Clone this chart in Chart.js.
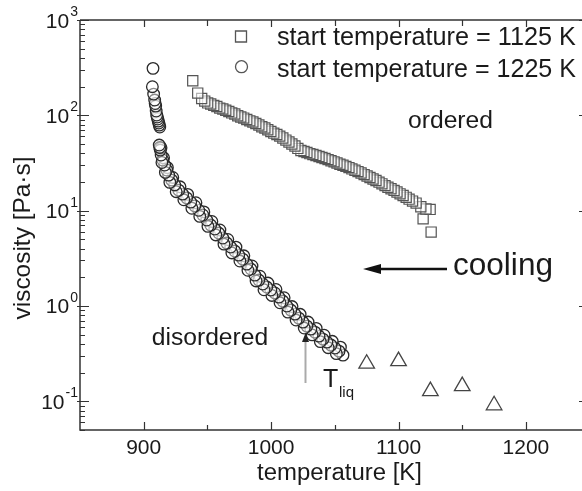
<!DOCTYPE html>
<html><head><meta charset="utf-8">
<script src="https://cdn.jsdelivr.net/npm/chart.js@4.4.0/dist/chart.umd.min.js"></script>
<style>html,body{margin:0;padding:0;background:#fff}</style>
</head><body>
<canvas id="c" width="582" height="491"></canvas>
<script>
// ---- data ----
const sqT = [938.5,942.4,945.5,947.9,950.2,952.6,955.0,957.4,959.7,962.1,964.4,966.8,969.1,971.5,973.8,976.2,978.5,980.9,983.3,985.7,988.0,990.4,992.7,995.1,997.4,999.8,1002.1,1004.5,1006.8,1009.2,1011.6,1014.0,1016.3,1018.7,1021.0,1023.4,1025.8,1028.1,1030.4,1032.8,1035.2,1037.6,1039.9,1042.3,1044.7,1047.0,1049.4,1051.7,1054.0,1056.4,1058.7,1061.1,1063.4,1065.8,1068.2,1070.6,1073.0,1075.3,1077.6,1080.0,1082.3,1084.7,1087.0,1089.4,1091.7,1094.1,1096.5,1098.8,1101.2,1103.6,1106.0,1108.3,1111.0,1113.8,1117.5,1121.5,1124.8,1119.3,1125.6];
const sqV = [230.7,171,150,141,135,131.4,127,123.6,119,116.4,113,109.6,106,103.2,99,96,93.5,90.3,87.5,85.1,82,79.1,76,73.6,70.5,67.6,65,62.9,60.5,57.8,55,52.5,50,47.6,45,42.7,41.8,40.7,39.6,38.8,37.9,37.0,36.1,35.2,34.3,33.4,32.5,31.6,30.7,29.9,29.1,28.3,27.4,26.5,25.7,24.8,23.9,23.1,22.3,21.5,20.7,19.9,19.1,18.3,17.6,17.0,16.3,15.7,15.0,14.4,13.8,13.2,12.6,12.0,11.0,10.4,10.3,8.2,5.96];

const ciT = [907.3,906.8,907.8,908.6,909.0,909.4,909.8,910.2,910.6,911.0,911.4,911.8,912.2,912.6,
 912.2,912.6,913.0,913.6,913.7,914.3,914.9,915.6,916.5,917.0,918.1,918.6,919.6,920.5,922.0,922.8,924.3,925.5,927.5,928.5,930.6,931.5,933.7,934.5,936.9,937.8,940.1,941.0,943.2,944.0,946.4,947.2,949.5,950.4,952.6,953.5,955.8,956.6,958.9,959.8,962.1,963.0,965.2,966.0,968.3,969.2,971.5,972.4,974.6,975.5,977.8,978.6,980.9,981.8,984.1,985.0,987.2,988.2,990.4,991.2,993.5,994.4,996.6,997.5,999.8,1000.6,1002.9,1003.8,1006.1,1007.0,1009.2,1010.2,1012.4,1013.2,1015.5,1016.4,1018.7,1019.6,1021.8,1022.8,1025.0,1026.0,1028.1,1029.0,1031.2,1032.2,1034.4,1035.4,1037.6,1038.6,1040.7,1041.6,1043.8,1044.8,1047.0,1048.0,1050.1,1051.2,1053.3,1054.4,1056.4];
const ciV = [311,199.6,167,144.7,133,125,111,100.7,96,91.5,87,83,79,75.4,
 48.8,46,43.2,45.6,38.3,32,34.0,35.8,30.1,25.2,26.7,28.3,23.6,19.8,20.9,22.3,18.6,15.8,16.4,17.8,14.9,13.0,13.6,14.8,12.3,10.6,11.2,12.1,10.1,8.7,9.0,9.7,7.97,6.85,7.06,7.7,6.41,5.56,5.82,6.27,5.16,4.45,4.57,4.98,4.15,3.6,3.77,4.14,3.42,2.96,3.10,3.36,2.75,2.37,2.44,2.63,2.11,1.83,1.87,2.05,1.70,1.48,1.58,1.74,1.47,1.29,1.37,1.49,1.24,1.08,1.126,1.22,0.998,0.863,0.906,0.986,0.822,0.712,0.746,0.818,0.678,0.587,0.615,0.678,0.572,0.498,0.532,0.582,0.483,0.423,0.449,0.493,0.418,0.365,0.389,0.426,0.362,0.316,0.336,0.37,0.305];

const triT = [1075,1100,1125,1150,1175];
const triV = [0.248,0.264,0.128,0.1445,0.0908];

const xMajor = [900,1000,1100,1200];
const xMinor = [950,1050,1150];
const xTickLabels = ['900','1000','1100','1200'];
const yMajor = [0.1,1,10,100,1000];
const yExpLabels = ['-1','0','1','2','3'];
const yMinor = [0.05,0.06,0.07,0.08,0.09,0.2,0.3,0.4,0.5,0.6,0.7,0.8,0.9,2,3,4,5,6,7,8,9,20,30,40,50,60,70,80,90,200,300,400,500,600,700,800,900];

const legendLabels = ['start temperature = 1125 K','start temperature = 1225 K'];

// ---- build ----
function pts(T,V){ const a=[]; for(let i=T.length-1;i>=0;i--) a.push({x:T[i],y:V[i]}); return a; }
const FONT = '"Liberation Sans", Arial, Helvetica, sans-serif';
const TXT = '#1a1a1a';

function fitText(ctx, text, x, y, w, base){
  ctx.font = base+'px '+FONT;
  const m = ctx.measureText(text).width;
  const s = base*w/m;
  ctx.font = s.toFixed(2)+'px '+FONT;
  ctx.fillText(text, x, y);
}

const deco = {
  id:'deco',
  afterDraw(chart){
    const ctx = chart.ctx, a = chart.chartArea;
    const xs = chart.scales.x, ys = chart.scales.y;
    ctx.save();
    // frame
    ctx.strokeStyle = '#333'; ctx.lineWidth = 1.5;
    ctx.beginPath();
    ctx.moveTo(a.left, a.top); ctx.lineTo(a.right, a.top);
    ctx.moveTo(a.left, a.top); ctx.lineTo(a.left, a.bottom); ctx.lineTo(a.right, a.bottom);
    ctx.stroke();
    ctx.lineWidth = 1.2;
    ctx.beginPath();
    xMajor.forEach(v=>{ const p = Math.round(xs.getPixelForValue(v))+0.5;
      ctx.moveTo(p,a.bottom); ctx.lineTo(p,a.bottom-8);
      ctx.moveTo(p,a.top); ctx.lineTo(p,a.top+7); });
    xMinor.forEach(v=>{ const p = Math.round(xs.getPixelForValue(v))+0.5;
      ctx.moveTo(p,a.bottom); ctx.lineTo(p,a.bottom-5);
      ctx.moveTo(p,a.top); ctx.lineTo(p,a.top+6); });
    yMajor.forEach(v=>{ const p = Math.round(ys.getPixelForValue(v))+0.5;
      ctx.moveTo(a.left-3,p); ctx.lineTo(a.left+9,p);
      ctx.moveTo(a.right,p); ctx.lineTo(a.right-3,p); });
    yMinor.forEach(v=>{ const p = Math.round(ys.getPixelForValue(v))+0.5;
      ctx.moveTo(a.left,p); ctx.lineTo(a.left+5,p); });
    ctx.stroke();

    ctx.fillStyle = TXT;
    // x tick labels
    ctx.font = '21px '+FONT; ctx.textAlign='center'; ctx.textBaseline='alphabetic';
    xMajor.forEach((v,i)=> ctx.fillText(xTickLabels[i], xs.getPixelForValue(v), 454));
    // y tick labels 10^n
    yMajor.forEach((v,i)=>{
      const p = ys.getPixelForValue(v);
      ctx.font = '14px '+FONT; ctx.textAlign='left';
      const ew = ctx.measureText(yExpLabels[i]).width;
      const ex = 78 - ew;
      ctx.fillText(yExpLabels[i], ex, p-4);
      ctx.font = '21px '+FONT; ctx.textAlign='right';
      ctx.fillText('10', ex-1, p+7.5);
    });
    // axis titles
    ctx.textAlign='center';
    fitText(ctx, 'temperature [K]', 339.5, 480, 165, 24);
    ctx.save(); ctx.translate(23,238); ctx.rotate(-Math.PI/2);
    ctx.textBaseline='middle';
    fitText(ctx, 'viscosity [Pa\u00b7s]', 0, 0, 163, 24.5);
    ctx.restore();

    // legend
    ctx.textAlign='left'; ctx.textBaseline='alphabetic';
    ctx.strokeStyle='#555'; ctx.lineWidth=1.3; ctx.fillStyle='#fff';
    ctx.beginPath(); ctx.rect(235.5,31,11,11); ctx.fill(); ctx.stroke();
    ctx.beginPath(); ctx.arc(241.5,66.7,6,0,Math.PI*2); ctx.fill(); ctx.stroke();
    ctx.fillStyle=TXT;
    fitText(ctx, legendLabels[0], 277, 45, 299, 25);
    fitText(ctx, legendLabels[1], 277, 76.5, 299, 25);

    // annotations
    fitText(ctx, 'ordered', 408, 128, 85, 24.5);
    fitText(ctx, 'disordered', 151.7, 345, 116.5, 24.5);
    fitText(ctx, 'cooling', 453, 275, 100, 31);
    // cooling arrow
    ctx.strokeStyle='#111'; ctx.lineWidth=2.5;
    ctx.beginPath(); ctx.moveTo(447,269); ctx.lineTo(376,269); ctx.stroke();
    ctx.fillStyle='#111';
    ctx.beginPath(); ctx.moveTo(363,269); ctx.lineTo(381,264); ctx.lineTo(381,274); ctx.closePath(); ctx.fill();
    // T_liq arrow
    ctx.strokeStyle='#aaa'; ctx.lineWidth=2;
    ctx.beginPath(); ctx.moveTo(305.5,383); ctx.lineTo(305.5,340); ctx.stroke();
    ctx.fillStyle='#222';
    ctx.beginPath(); ctx.moveTo(305.5,333); ctx.lineTo(302,342); ctx.lineTo(309,342); ctx.closePath(); ctx.fill();
    ctx.fillStyle=TXT;
    ctx.font='25px '+FONT; ctx.fillText('T', 323, 386.5);
    ctx.font='15px '+FONT; ctx.fillText('liq', 339, 396.5);
    ctx.restore();
  }
};

new Chart(document.getElementById('c'), {
  type:'scatter',
  data:{ datasets:[
    {label:legendLabels[0], data:pts(sqT,sqV), pointStyle:'rect', pointRadius:7.2, pointHoverRadius:7.2,
      borderColor:'#555', backgroundColor:'rgba(255,255,255,0.55)', borderWidth:1.2},
    {label:legendLabels[1], data:pts(ciT,ciV), pointStyle:'circle', pointRadius:5.8, pointHoverRadius:5.8,
      borderColor:'#2a2a2a', backgroundColor:'rgba(255,255,255,0.45)', borderWidth:1.3},
    {label:'literature', data:pts(triT,triV), pointStyle:'triangle', pointRadius:9, pointHoverRadius:9,
      borderColor:'#444', backgroundColor:'rgba(255,255,255,0)', borderWidth:1.3}
  ]},
  options:{
    responsive:false, animation:false, devicePixelRatio:1,
    layout:{autoPadding:false, padding:{top:20,left:0,right:0,bottom:0}},
    plugins:{legend:{display:false}, tooltip:{enabled:false}},
    events:[],
    scales:{
      x:{type:'linear', min:850, max:1244, ticks:{display:false}, grid:{display:false}, border:{display:false},
         afterFit(s){ s.height = 61; }},
      y:{type:'logarithmic', min:0.05, max:1000, ticks:{display:false}, grid:{display:false}, border:{display:false},
         afterFit(s){ s.width = 80; }}
    }
  },
  plugins:[deco]
});
</script>
</body></html>
